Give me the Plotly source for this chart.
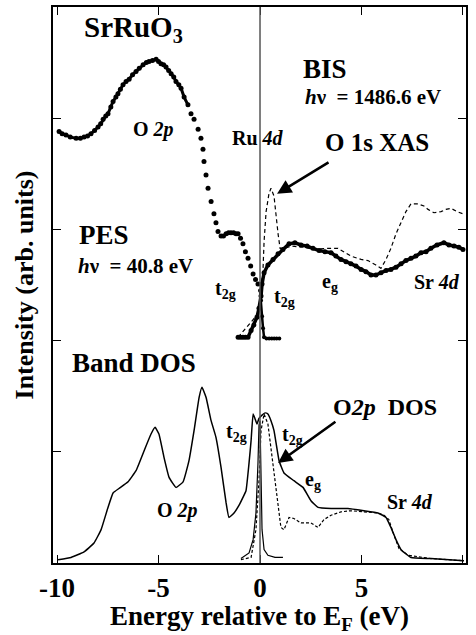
import plotly.graph_objects as go

# ---------------- data ----------------
# PES (hv = 40.8 eV), dense part
pes_x = [-9.90, -9.75, -9.56, -9.35, -9.06, -8.85, -8.67, -8.50, -8.33, -8.15, -7.98, -7.85,
         -7.73, -7.60, -7.49, -7.35, -7.24, -7.10, -7.00, -6.88, -6.75, -6.60, -6.45, -6.28,
         -6.11, -5.95, -5.76, -5.60, -5.47, -5.30, -5.12, -5.00, -4.88, -4.75, -4.63, -4.50,
         -4.38, -4.25, -4.14, -4.00, -3.89, -3.74, -3.55]
pes_y = [3.88, 3.86, 3.85, 3.83, 3.82, 3.82, 3.83, 3.84, 3.86, 3.89, 3.92, 3.95,
         3.99, 4.02, 4.04, 4.10, 4.15, 4.19, 4.22, 4.26, 4.30, 4.33, 4.35, 4.39,
         4.42, 4.45, 4.48, 4.50, 4.51, 4.52, 4.53, 4.51, 4.49, 4.48, 4.46, 4.43,
         4.40, 4.37, 4.33, 4.30, 4.27, 4.19, 4.12]
# PES, sparse (individually visible) points
pes2_x = [-3.40, -3.25, -3.05, -2.91, -2.81, -2.76, -2.66, -2.56, -2.41, -2.27, -2.17, -2.07,
          -1.92, -1.80, -1.67, -1.55, -1.43, -1.30, -1.18, -1.08, -0.96, -0.84, -0.72, -0.59,
          -0.46, -0.34, -0.22, -0.10]
pes2_y = [4.04, 3.99, 3.90, 3.82, 3.72, 3.61, 3.49, 3.37, 3.25, 3.14, 3.06, 2.98,
          2.94, 2.94, 2.96, 2.97, 2.97, 2.97, 2.96, 2.96, 2.92, 2.87, 2.80, 2.74,
          2.67, 2.60, 2.55, 2.51]
# PES at / above E_F
pes3_x = [0.00, 0.05, 0.10, 0.15, 0.20, 0.32, 0.45, 0.58, 0.70, 0.82, 0.95]
pes3_y = [2.45, 2.36, 2.22, 2.11, 2.03, 2.02, 2.02, 2.02, 2.02, 2.02, 2.02]

# BIS (hv = 1486.6 eV)
bis_x = [-1.08, -0.96, -0.84, -0.72, -0.59, -0.44, -0.30, -0.15, -0.05, 0.05, 0.10, 0.20,
         0.39, 0.64, 0.89, 1.13, 1.43, 1.72, 2.02, 2.32, 2.61, 2.91, 3.20, 3.50, 3.74,
         3.99, 4.24, 4.48, 4.73, 4.98, 5.22, 5.47, 5.71, 5.96, 6.21, 6.45, 6.70, 6.95,
         7.19, 7.44, 7.68, 7.93, 8.18, 8.42, 8.72, 9.06, 9.31, 9.56, 9.80, 10.0]
bis_y = [2.03, 2.03, 2.03, 2.03, 2.03, 2.09, 2.14, 2.21, 2.29, 2.40, 2.51, 2.61,
         2.68, 2.73, 2.78, 2.82, 2.87, 2.88, 2.86, 2.85, 2.83, 2.81, 2.80, 2.79, 2.76,
         2.73, 2.71, 2.69, 2.67, 2.64, 2.62, 2.59, 2.59, 2.61, 2.63, 2.64, 2.66, 2.69,
         2.72, 2.74, 2.76, 2.79, 2.80, 2.83, 2.86, 2.88, 2.86, 2.85, 2.84, 2.82]

# O 1s XAS (dashed)
xas_x = [-1.08, -0.54, -0.10, 0.05, 0.15, 0.20, 0.30, 0.44, 0.54, 0.69, 0.79, 0.89, 0.99,
         1.23, 1.53, 2.17, 2.66, 3.25, 3.84, 4.19, 4.48, 4.98, 5.32, 5.71, 5.96, 6.21,
         6.45, 6.70, 6.95, 7.19, 7.44, 7.78, 8.08, 8.28, 8.57, 8.92, 9.16, 9.41, 9.70, 10.0]
xas_y = [2.03, 2.15, 2.24, 2.45, 2.65, 2.89, 3.16, 3.32, 3.37, 3.30, 3.12, 2.96, 2.83,
         2.83, 2.85, 2.84, 2.82, 2.83, 2.83, 2.79, 2.76, 2.73, 2.72, 2.68, 2.65, 2.73,
         2.83, 2.96, 3.07, 3.16, 3.23, 3.23, 3.21, 3.18, 3.15, 3.16, 3.18, 3.19, 3.16, 3.14]

# Band DOS (total, solid)
dos_x = [-9.95, -9.31, -8.67, -8.18, -7.83, -7.49, -7.24, -6.95, -6.50, -6.11, -5.71, -5.37,
         -5.17, -4.98, -4.73, -4.48, -4.14, -3.79, -3.50, -3.25, -3.00, -2.86, -2.66, -2.41,
         -2.17, -1.92, -1.67, -1.53, -1.28, -1.03, -0.84, -0.69, -0.54, -0.44, -0.34, -0.25,
         -0.15, -0.05, 0.10, 0.25, 0.39, 0.54, 0.69, 0.94, 1.18, 1.67, 2.12, 2.51, 2.86,
         3.50, 4.33, 5.12, 5.81, 6.21, 6.45, 6.70, 6.95, 7.44, 8.42, 10.05]
dos_y = [0.03, 0.05, 0.10, 0.18, 0.30, 0.50, 0.63, 0.67, 0.73, 0.83, 1.01, 1.16,
         1.22, 1.16, 0.95, 0.77, 0.68, 0.73, 0.92, 1.19, 1.49, 1.58, 1.49, 1.28,
         1.13, 0.86, 0.54, 0.41, 0.45, 0.52, 0.59, 0.65, 0.90, 1.10, 1.34, 1.30,
         1.25, 1.30, 1.33, 1.35, 1.34, 1.28, 1.19, 0.92, 0.81, 0.74, 0.68, 0.56, 0.50,
         0.49, 0.49, 0.47, 0.45, 0.41, 0.32, 0.21, 0.12, 0.05, 0.04, 0.02]

# O 2p partial DOS (dashed)
o2p_x = [-0.94, -0.44, -0.20, -0.05, 0.05, 0.15, 0.20, 0.39, 0.54, 0.69, 0.89, 1.03, 1.18,
         1.43, 1.67, 2.02, 2.51, 2.86, 3.15, 3.50, 3.99, 4.48, 5.12, 5.81, 6.11, 6.35,
         6.60, 6.85, 7.29, 8.42, 10.05]
o2p_y = [0.03, 0.05, 0.30, 0.74, 1.19, 1.31, 1.34, 1.25, 1.04, 0.81, 0.56, 0.32, 0.30,
         0.41, 0.40, 0.36, 0.36, 0.32, 0.39, 0.43, 0.46, 0.47, 0.46, 0.45, 0.43, 0.39,
         0.25, 0.13, 0.07, 0.04, 0.02]

# Occupied (Fermi-cut) DOS near E_F (thin solid)
occ_x = [-0.94, -0.54, -0.34, -0.20, -0.10, -0.05, 0.00, 0.05, 0.10, 0.20, 0.39, 0.74, 1.13]
occ_y = [0.04, 0.09, 0.21, 0.45, 0.90, 1.24, 1.28, 0.83, 0.30, 0.12, 0.07, 0.05, 0.05]

x_ticks = [-10, -5, 0, 5, 10]
y_ticks = [0, 1, 2, 3, 4, 5]

FONT = "Liberation Serif, Times New Roman, serif"
BLACK = "black"

fig = go.Figure()

dot = dict(color=BLACK, size=5)
fig.add_trace(go.Scatter(x=pes_x, y=pes_y, mode="lines+markers", marker=dot,
                         line=dict(color=BLACK, width=3), showlegend=False))
fig.add_trace(go.Scatter(x=pes2_x, y=pes2_y, mode="markers", marker=dot, showlegend=False))
fig.add_trace(go.Scatter(x=pes3_x, y=pes3_y, mode="lines+markers", marker=dict(color=BLACK, size=4),
                         line=dict(color=BLACK, width=2.5), showlegend=False))
fig.add_trace(go.Scatter(x=xas_x, y=xas_y, mode="lines",
                         line=dict(color=BLACK, width=1.2, dash="4px,3px"), showlegend=False))
fig.add_trace(go.Scatter(x=bis_x, y=bis_y, mode="lines+markers", marker=dot,
                         line=dict(color=BLACK, width=3.5), showlegend=False))
fig.add_trace(go.Scatter(x=o2p_x, y=o2p_y, mode="lines",
                         line=dict(color=BLACK, width=1.2, dash="3px,2px"), showlegend=False))
fig.add_trace(go.Scatter(x=dos_x, y=dos_y, mode="lines",
                         line=dict(color=BLACK, width=1.5, shape="spline", smoothing=0.35),
                         showlegend=False))
fig.add_trace(go.Scatter(x=occ_x, y=occ_y, mode="lines",
                         line=dict(color=BLACK, width=1.2), showlegend=False))

# E_F reference line
fig.add_shape(type="line", xref="x", yref="paper", x0=0, x1=0, y0=0, y1=1,
              line=dict(color="#555555", width=1.5), layer="above")

def label(x, y, text, size=20, xanchor="center"):
    fig.add_annotation(x=x, y=y, xref="x", yref="y", text=text, showarrow=False,
                       xanchor=xanchor, yanchor="middle",
                       font=dict(family=FONT, size=size, color=BLACK))

label(-6.21, 4.80, "<b>SrRuO<sub>3</sub></b>", 29)
label(-5.27, 3.90, "<b>O <i>2p</i></b>", 20)
label(-0.10, 3.82, "<b>Ru <i>4d</i></b>", 20)
label(3.20, 4.44, "<b>BIS</b>", 27)
label(2.12, 4.19, "<b><i>h</i>ν  = 1486.6 eV</b>", 21, "left")
label(5.76, 3.78, "<b>O 1s XAS</b>", 25)
label(-9.01, 2.95, "<b>PES</b>", 27, "left")
label(-9.06, 2.67, "<b><i>h</i>ν  = 40.8 eV</b>", 21, "left")
label(-1.72, 2.46, "<b>t<sub>2g</sub></b>", 20)
label(1.23, 2.39, "<b>t<sub>2g</sub></b>", 20)
label(3.45, 2.52, "<b>e<sub>g</sub></b>", 20)
label(8.72, 2.53, "<b>Sr <i>4d</i></b>", 20)
label(-9.36, 1.80, "<b>Band DOS</b>", 27, "left")
label(-4.09, 0.47, "<b>O <i>2p</i></b>", 20)
label(-1.18, 1.17, "<b>t<sub>2g</sub></b>", 20)
label(1.58, 1.15, "<b>t<sub>2g</sub></b>", 20)
label(2.61, 0.74, "<b>e<sub>g</sub></b>", 20)
label(7.39, 0.55, "<b>Sr <i>4d</i></b>", 20)
label(6.16, 1.40, "<b>O<i>2p</i>  DOS</b>", 24)

for (x0, y0, x1, y1) in [(3.45, 3.61, 0.84, 3.32), (3.79, 1.28, 0.89, 0.90)]:
    fig.add_annotation(x=x1, y=y1, ax=x0, ay=y0, xref="x", yref="y", axref="x", ayref="y",
                       text="", showarrow=True, arrowhead=2, arrowsize=1.1,
                       arrowwidth=2.6, arrowcolor=BLACK)

axis_common = dict(showgrid=False, zeroline=False, showline=True, linecolor=BLACK,
                   linewidth=1.5, mirror="ticks", ticks="inside", ticklen=8,
                   tickwidth=1.2, tickcolor=BLACK)

fig.update_xaxes(range=[-10.2, 10.15], tickvals=x_ticks,
                 ticktext=["<b>%d</b>" % v for v in x_ticks],
                 tickfont=dict(family=FONT, size=27, color=BLACK),
                 title=dict(text="<b>Energy relative to E<sub>F</sub> (eV)</b>",
                            font=dict(family=FONT, size=27, color=BLACK), standoff=2),
                 **axis_common)
fig.update_yaxes(range=[0, 5.0], tickvals=y_ticks, showticklabels=False,
                 title=dict(text="<b>Intensity (arb. units)</b>",
                            font=dict(family=FONT, size=26, color=BLACK), standoff=10),
                 **axis_common)

fig.update_layout(width=476, height=635, plot_bgcolor="white", paper_bgcolor="white",
                  margin=dict(l=53, r=10, t=5, b=72), showlegend=False)

fig.write_html("out.html")
